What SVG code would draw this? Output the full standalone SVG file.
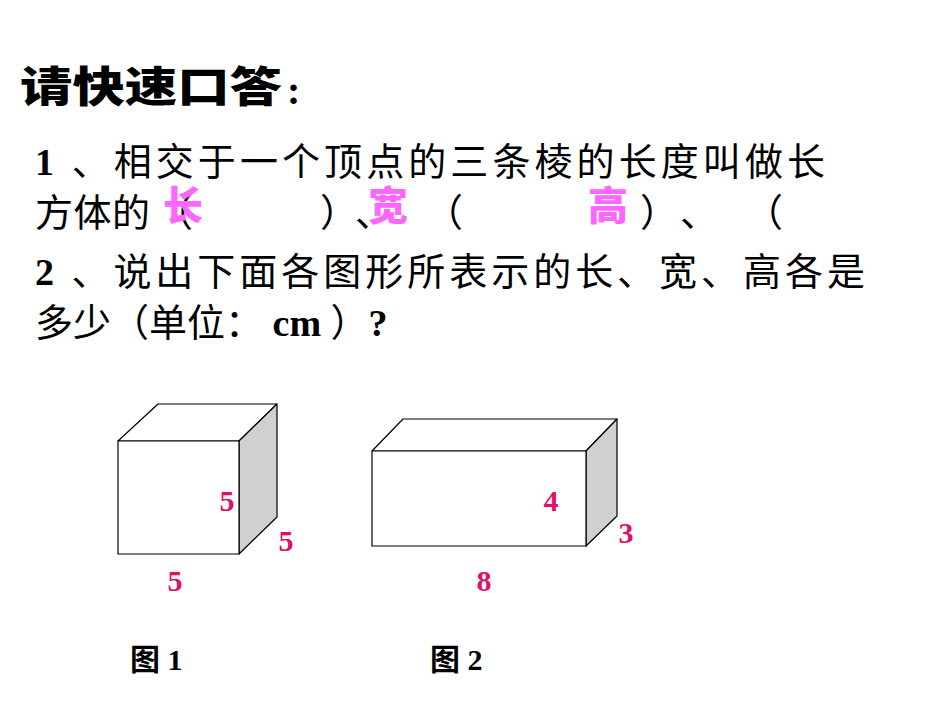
<svg xmlns="http://www.w3.org/2000/svg" width="950" height="713" viewBox="0 0 950 713">
<style>
.t{font-family:"Liberation Serif","Noto Sans CJK SC",serif;fill:#000}
.p{font-family:"Noto Sans CJK SC",sans-serif;font-weight:900;fill:#ff66ff;font-size:40px}
.n{font-family:"Liberation Serif",serif;font-weight:bold;fill:#e0106a;font-size:30px;text-anchor:middle}
.e{stroke:#000;stroke-width:1.2;stroke-linejoin:round}
</style>
<rect width="950" height="713" fill="#fff"/>
<g id="title"><text x="20" y="102" font-size="42" font-weight="900" style="font-family:'Noto Sans CJK SC',sans-serif" textLength="262" lengthAdjust="spacingAndGlyphs">请快速口答</text><text x="287" y="104" class="t" font-size="40" font-weight="bold">:</text></g>
<g id="q1">
<text class="t" x="35" y="175" font-size="38" textLength="790"><tspan font-weight="bold">1</tspan> 、相交于一个顶点的三条棱的长度叫做长</text>
<text class="t" x="35" y="226" font-size="38" textLength="115">方体的</text>
<text class="t" x="155" y="226" font-size="38">（</text>
<text class="t" x="320" y="226" font-size="38">）</text>
<text class="t" x="355" y="226" font-size="38">、</text>
<text class="t" x="425" y="226" font-size="38">（</text>
<text class="t" x="640" y="226" font-size="38">）</text>
<text class="t" x="680" y="226" font-size="38">、</text>
<text class="t" x="745" y="226" font-size="38">（</text>
<text class="p" x="163" y="220">长</text>
<text class="p" x="368" y="220">宽</text>
<text class="p" x="588" y="220">高</text>
</g>
<g id="q2">
<text class="t" x="35" y="285" font-size="38" textLength="830"><tspan font-weight="bold">2</tspan> 、说出下面各图形所表示的长、宽、高各是</text>
<text class="t" x="35" y="336" font-size="38">多少（单位： <tspan font-weight="bold" font-family="Liberation Serif">cm</tspan> ）<tspan font-weight="bold">?</tspan></text>
</g>
<g id="cube1" class="e">
<polygon points="118,441 158,404 277,404 239,441" fill="#fff"/>
<polygon points="239,441 277,404 277,517 239,554" fill="#d0d0d0"/>
<rect x="118" y="441" width="121" height="113" fill="#fff"/>
</g>
<g id="box2" class="e">
<polygon points="372,451 403,419 617,419 586,451" fill="#fff"/>
<polygon points="586,451 617,419 617,516 586,546" fill="#d0d0d0"/>
<rect x="372" y="451" width="214" height="95" fill="#fff"/>
</g>
<g id="labels">
<text class="n" x="227" y="511">5</text>
<text class="n" x="286" y="551">5</text>
<text class="n" x="175" y="591">5</text>
<text class="n" x="551" y="511">4</text>
<text class="n" x="626" y="543">3</text>
<text class="n" x="484" y="591">8</text>
<text class="t" x="130" y="670" font-size="30" font-weight="bold">图 1</text>
<text class="t" x="430" y="670" font-size="30" font-weight="bold">图 2</text>
</g>
</svg>
